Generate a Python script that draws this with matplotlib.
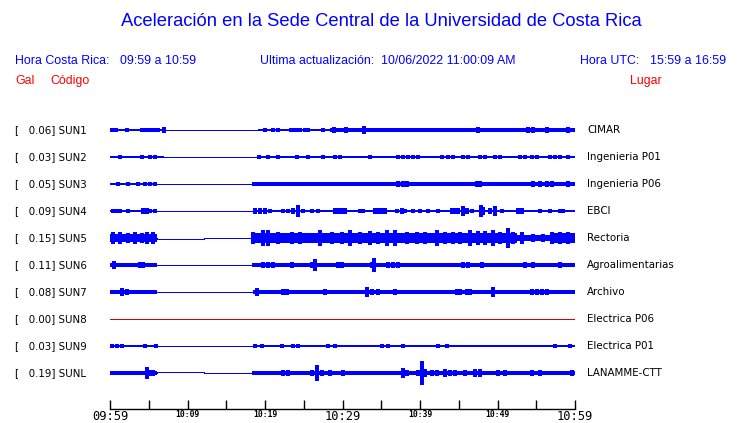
import matplotlib
matplotlib.use("Agg")
import matplotlib.pyplot as plt

# ---------------- data ----------------
codes = ["SUN1", "SUN2", "SUN3", "SUN4", "SUN5", "SUN6", "SUN7", "SUN8", "SUN9", "SUNL"]
places = ["CIMAR", "Ingenieria P01", "Ingenieria P06", "EBCI", "Rectoria",
          "Agroalimentarias", "Archivo", "Electrica P06", "Electrica P01", "LANAMME-CTT"]
peak_gal = [0.06, 0.03, 0.05, 0.09, 0.15, 0.11, 0.08, 0.00, 0.03, 0.19]

# background envelope (half amplitude, Gal) as step function: start minute -> level (0 = no data)
sun1_base_t = [0, 1.0, 7.0, 19.05, 28.5]
sun1_base_a = [0.032, 0.022, 0, 0.02, 0.024]
sun2_base_t = [0, 6.75, 19.2]
sun2_base_a = [0.011, 0, 0.011]
sun3_base_t = [0, 6.0, 18.45]
sun3_base_a = [0.02, 0, 0.03]
sun4_base_t = [0, 6.0, 18.45]
sun4_base_a = [0.022, 0, 0.023]
sun5_base_t = [0, 6.0, 18.3, 52.5, 57.0]
sun5_base_a = [0.065, 0, 0.075, 0.05, 0.072]
sun6_base_t = [0, 6.0, 18.3]
sun6_base_a = [0.028, 0, 0.028]
sun7_base_t = [0, 6.0, 18.45]
sun7_base_a = [0.025, 0, 0.027]
sun8_base_t = [0]
sun8_base_a = [0]
sun9_base_t = [0, 6.0, 18.45]
sun9_base_a = [0.014, 0, 0.016]
sunl_base_t = [0, 6.0, 18.3]
sunl_base_a = [0.027, 0, 0.029]

# bursts: minute after 09:59 and half amplitude (Gal)
sun1_burst_t = [0.3, 0.8, 2.24, 4.17, 4.52, 5.03, 5.38, 5.72, 6.15, 7.0,
                20.0, 21.07, 21.64, 23.4, 23.7, 24.0, 24.5, 25.2, 25.6, 27.5,
                28.6, 28.9, 29.3, 29.7, 30.1, 30.5, 32.82, 33.55, 34.1, 35.7,
                37.0, 37.85, 38.9, 40.0, 40.6, 41.1, 41.7, 42.4, 42.8, 43.7,
                44.3, 45.8, 46.45, 47.53, 48.17, 49.25, 49.9, 51.4, 52.9, 53.9,
                54.6, 55.3, 56.34, 57.2, 58.06, 59.14]
sun1_burst_a = [0.032, 0.032, 0.035, 0.035, 0.03, 0.035, 0.03, 0.03, 0.03, 0.048,
                0.03, 0.035, 0.03, 0.035, 0.035, 0.035, 0.03, 0.035, 0.03, 0.028,
                0.035, 0.04, 0.037, 0.037, 0.035, 0.053, 0.058, 0.03, 0.03, 0.03,
                0.03, 0.033, 0.03, 0.035, 0.035, 0.03, 0.033, 0.033, 0.03, 0.035,
                0.03, 0.035, 0.03, 0.048, 0.03, 0.033, 0.03, 0.033, 0.035, 0.048,
                0.04, 0.035, 0.045, 0.035, 0.035, 0.04]

sun2_burst_t = [0.22, 0.65, 1.29, 3.14, 3.44, 4.17, 4.73, 5.16, 5.8, 6.24, 6.75,
                19.23, 20.43, 21.72, 22.8, 24.08, 24.73, 25.59, 27.53, 29.03, 29.68,
                30.75, 31.6, 33.55, 34.62, 35.9, 37.2, 37.85, 38.5, 39.14, 39.79,
                40.65, 41.72, 42.8, 43.66, 44.3, 45.59, 46.24, 46.88, 47.74, 48.39,
                49.68, 50.32, 51.6, 52.9, 53.55, 54.41, 55.05, 56.77, 57.42, 58.06,
                59.14]
sun2_burst_a = [0.022, 0.02, 0.025, 0.022, 0.022, 0.025, 0.022, 0.025, 0.025, 0.022, 0.02,
                0.028, 0.025, 0.025, 0.022, 0.025, 0.022, 0.025, 0.028, 0.025, 0.025,
                0.022, 0.022, 0.025, 0.022, 0.02, 0.028, 0.03, 0.028, 0.028, 0.025,
                0.022, 0.022, 0.028, 0.025, 0.025, 0.028, 0.028, 0.022, 0.028, 0.025,
                0.025, 0.025, 0.022, 0.025, 0.025, 0.028, 0.025, 0.028, 0.03, 0.025,
                0.025]

sun3_burst_t = [1.08, 2.37, 3.23, 3.65, 4.52, 5.16, 5.8,
                18.62, 19.57, 21.29, 21.94, 22.8, 23.66, 24.3, 25.16, 26.02, 26.88,
                28.39, 29.03, 29.68, 30.32, 30.97, 31.6, 32.9, 33.76, 35.05, 35.7,
                37.2, 37.76, 38.28, 38.93, 40.0, 41.29, 42.8, 43.66, 44.73, 45.59,
                46.24, 47.31, 47.74, 49.03, 49.89, 50.54, 51.4, 52.9, 53.98, 54.62,
                55.48, 56.34, 56.99, 57.63, 59.14]
sun3_burst_a = [0.025, 0.032, 0.022, 0.025, 0.025, 0.025, 0.028,
                0.037, 0.035, 0.035, 0.035, 0.035, 0.037, 0.037, 0.035, 0.035, 0.033,
                0.035, 0.035, 0.035, 0.035, 0.035, 0.035, 0.033, 0.035, 0.035, 0.035,
                0.045, 0.053, 0.04, 0.037, 0.035, 0.033, 0.035, 0.035, 0.035, 0.035,
                0.035, 0.042, 0.042, 0.037, 0.035, 0.035, 0.035, 0.033, 0.035, 0.048,
                0.04, 0.04, 0.04, 0.038, 0.042]

sun4_burst_t = [0.43, 0.86, 1.29, 2.37, 4.3, 4.52, 4.73, 5.16, 5.8,
                18.71, 19.35, 20.0, 20.64, 22.37, 23.01, 23.66, 24.3, 24.95, 26.02,
                26.88, 29.03, 29.46, 29.89, 30.32, 32.26, 32.69, 34.19, 34.62, 35.05,
                35.48, 37.0, 37.63, 38.06, 39.14, 40.0, 41.08, 42.37, 44.09, 44.52,
                44.95, 45.59, 46.02, 46.67, 47.87, 48.17, 49.03, 49.68, 50.54, 52.69,
                53.12, 55.48, 56.77, 58.06, 58.49]
sun4_burst_a = [0.037, 0.037, 0.035, 0.03, 0.045, 0.053, 0.045, 0.03, 0.037,
                0.045, 0.04, 0.045, 0.035, 0.037, 0.037, 0.04, 0.09, 0.03, 0.03,
                0.03, 0.045, 0.05, 0.04, 0.045, 0.03, 0.03, 0.045, 0.05, 0.045,
                0.04, 0.035, 0.04, 0.03, 0.03, 0.03, 0.03, 0.03, 0.05, 0.055,
                0.05, 0.074, 0.045, 0.03, 0.095, 0.06, 0.045, 0.085, 0.03, 0.05,
                0.05, 0.03, 0.03, 0.035, 0.035]

sun5_burst_t = [0.43, 1.29, 2.37, 3.23, 4.09, 4.73, 5.59,
                18.49, 19.78, 20.43, 21.72, 23.44, 24.52, 25.16, 27.1, 28.6, 29.89,
                30.97, 32.26, 33.55, 34.62, 35.7, 36.77, 38.28, 39.57, 40.65, 42.15,
                43.23, 44.3, 45.16, 46.45, 47.53, 48.39, 49.46, 50.32, 51.31, 52.04,
                53.12, 54.62, 55.91, 56.99, 58.06, 59.14]
sun5_burst_a = [0.09, 0.1, 0.08, 0.09, 0.08, 0.1, 0.09,
                0.1, 0.13, 0.12, 0.09, 0.1, 0.09, 0.08, 0.12, 0.09, 0.1,
                0.12, 0.1, 0.11, 0.1, 0.12, 0.12, 0.1, 0.09, 0.1, 0.12,
                0.1, 0.1, 0.1, 0.12, 0.11, 0.11, 0.12, 0.09, 0.16, 0.1,
                0.09, 0.06, 0.06, 0.09, 0.1, 0.1]

sun6_burst_t = [0.56, 3.87, 4.3, 5.38, 5.8,
                19.78, 20.43, 21.07, 22.8, 23.44, 26.02, 26.45, 27.74, 29.46, 29.98,
                31.18, 32.69, 33.76, 34.11, 35.9, 36.56, 37.2, 38.93, 44.09, 45.59,
                46.24, 46.88, 47.96, 48.6, 49.46, 50.97, 51.83, 53.55, 54.62, 55.27,
                58.06]
sun6_burst_a = [0.07, 0.042, 0.045, 0.035, 0.035,
                0.04, 0.045, 0.045, 0.035, 0.048, 0.04, 0.1, 0.035, 0.053, 0.05,
                0.035, 0.035, 0.04, 0.106, 0.045, 0.042, 0.045, 0.035, 0.035, 0.04,
                0.04, 0.035, 0.04, 0.035, 0.035, 0.035, 0.035, 0.045, 0.04, 0.035,
                0.042]

sun7_burst_t = [1.51, 2.15, 3.65, 5.59,
                18.92, 20.0, 22.37, 22.8, 23.23, 25.16, 27.74, 29.03, 29.46, 30.75,
                31.4, 33.12, 33.76, 34.62, 35.27, 36.77, 38.28, 38.71, 39.35, 41.94,
                43.01, 43.66, 44.73, 45.16, 46.02, 46.45, 48.3, 49.46, 50.32, 53.33,
                54.41, 55.05, 55.7, 56.34, 57.2, 58.49, 59.35]
sun7_burst_a = [0.064, 0.04, 0.032, 0.032,
                0.07, 0.035, 0.042, 0.042, 0.035, 0.037, 0.048, 0.035, 0.035, 0.037,
                0.037, 0.085, 0.04, 0.04, 0.035, 0.053, 0.035, 0.035, 0.03, 0.03,
                0.035, 0.035, 0.048, 0.045, 0.04, 0.04, 0.035, 0.08, 0.035, 0.03,
                0.048, 0.045, 0.048, 0.045, 0.037, 0.035, 0.03]

sun8_burst_t = []
sun8_burst_a = []

sun9_burst_t = [0.22, 0.86, 1.51, 1.94, 3.23, 4.52, 5.38, 5.89,
                18.71, 19.57, 22.15, 23.66, 24.3, 25.16, 26.02, 28.17, 29.03, 30.32,
                32.04, 33.33, 35.05, 35.91, 37.85, 39.35, 40.65, 42.37, 43.44, 44.95,
                46.67, 48.39, 50.11, 51.4, 53.12, 55.27, 57.42, 59.35]
sun9_burst_a = [0.024, 0.024, 0.024, 0.022, 0.022, 0.024, 0.022, 0.024,
                0.024, 0.024, 0.035, 0.024, 0.024, 0.022, 0.022, 0.024, 0.024, 0.022,
                0.022, 0.022, 0.024, 0.024, 0.035, 0.022, 0.022, 0.024, 0.024, 0.022,
                0.022, 0.022, 0.022, 0.022, 0.022, 0.022, 0.03, 0.024]

sunl_burst_t = [1.94, 2.37, 2.8, 4.73, 5.16, 5.59,
                22.37, 23.01, 26.02, 26.67, 27.31, 28.39, 30.11, 34.19, 35.48, 37.85,
                38.28, 39.79, 40.22, 40.65, 41.51, 42.15, 43.23, 43.87, 44.52, 45.8,
                47.1, 47.74, 50.11, 50.97, 53.12, 54.41, 55.48, 56.56, 59.57]
sunl_burst_a = [0.032, 0.035, 0.032, 0.09, 0.045, 0.042,
                0.042, 0.042, 0.053, 0.12, 0.045, 0.04, 0.04, 0.037, 0.035, 0.074,
                0.045, 0.053, 0.19, 0.06, 0.053, 0.05, 0.069, 0.048, 0.048, 0.04,
                0.069, 0.06, 0.04, 0.04, 0.035, 0.045, 0.048, 0.035, 0.042]

# offset (Gal) of the flat no-data line before / after 10:11
gap_step_min = 12.1
gap_level_before = [0, 0, 0, 0, -0.012, 0, 0, 0, 0, 0.014]
gap_level_after = [0, 0, 0, 0, 0, 0, 0, 0, 0, 0]

tick_minutes = [0, 10, 20, 30, 40, 50, 60]
tick_labels = ["09:59", "10:09", "10:19", "10:29", "10:39", "10:49", "10:59"]
tick_big = [True, False, False, True, False, False, True]
minor_minutes = [5, 15, 25, 35, 45, 55]

base_t = [sun1_base_t, sun2_base_t, sun3_base_t, sun4_base_t, sun5_base_t,
          sun6_base_t, sun7_base_t, sun8_base_t, sun9_base_t, sunl_base_t]
base_a = [sun1_base_a, sun2_base_a, sun3_base_a, sun4_base_a, sun5_base_a,
          sun6_base_a, sun7_base_a, sun8_base_a, sun9_base_a, sunl_base_a]
burst_t = [sun1_burst_t, sun2_burst_t, sun3_burst_t, sun4_burst_t, sun5_burst_t,
           sun6_burst_t, sun7_burst_t, sun8_burst_t, sun9_burst_t, sunl_burst_t]
burst_a = [sun1_burst_a, sun2_burst_a, sun3_burst_a, sun4_burst_a, sun5_burst_a,
           sun6_burst_a, sun7_burst_a, sun8_burst_a, sun9_burst_a, sunl_burst_a]

# ---------------- drawing ----------------
W, H = 740, 423
fig = plt.figure(figsize=(W / 100, H / 100), dpi=100)
fig.patch.set_facecolor("white")


def fx(px):
    return px / W


def fy(py):
    return 1 - py / H


BLUE = "#0000ff"
RED = "#ff0000"
SANS = ["Liberation Sans", "DejaVu Sans"]

fig.text(fx(381), fy(22), "Aceleración en la Sede Central de la Universidad de Costa Rica",
         ha="center", va="center", color=BLUE, fontsize=13.2, family=SANS)
hdr = dict(va="center", color=BLUE, fontsize=8.9, family=SANS)
fig.text(fx(15), fy(61), "Hora Costa Rica:", **hdr)
fig.text(fx(120), fy(61), "09:59 a 10:59", **hdr)
fig.text(fx(260), fy(61), "Ultima actualización:", **hdr)
fig.text(fx(381), fy(61), "10/06/2022 11:00:09 AM", **hdr)
fig.text(fx(580), fy(61), "Hora UTC:", **hdr)
fig.text(fx(650), fy(61), "15:59 a 16:59", **hdr)
red = dict(va="center", color=RED, fontsize=8.9, family=SANS)
fig.text(fx(15), fy(81), "Gal", **red)
fig.text(fx(50), fy(81), "Código", **red)
fig.text(fx(630), fy(81), "Lugar", **red)

PX_PER_GAL = 63.0
ROW = 27 / PX_PER_GAL
top = 15 / PX_PER_GAL
ax = fig.add_axes([fx(110), fy(390), 465 / W, 275 / H])
ax.set_xlim(0, 60)
ax.set_ylim(top - 275 / PX_PER_GAL, top)
ax.axis("off")

AA = False
LW_LINE = 0.72   # one pixel
LW_BURST = 1.5
for i, code in enumerate(codes):
    y0 = -i * ROW
    starts = base_t[i]
    ends = starts[1:] + [60]
    if peak_gal[i] == 0 and max(base_a[i]) == 0:
        ax.hlines(y0, 0, 60, color="#dd0000", lw=LW_LINE, antialiased=AA)
    else:
        for t0, t1, a in zip(starts, ends, base_a[i]):
            if a > 0:
                ax.fill_between([t0, t1], y0 - a, y0 + a, color=BLUE, lw=0, antialiased=AA)
                ax.hlines(y0, t0, t1, color=BLUE, lw=LW_LINE, antialiased=AA)
            else:
                m = min(max(gap_step_min, t0), t1)
                if m > t0:
                    ax.hlines(y0 + gap_level_before[i], t0, m, color=BLUE, lw=LW_LINE,
                              antialiased=AA)
                if t1 > m:
                    ax.hlines(y0 + gap_level_after[i], m, t1, color=BLUE, lw=LW_LINE,
                              antialiased=AA)
        if burst_t[i]:
            bt = burst_t[i]
            ba = burst_a[i]
            ax.vlines(bt, [y0 - a for a in ba], [y0 + a for a in ba], color=BLUE,
                      lw=LW_BURST, antialiased=AA)

    ax.annotate(f"[{peak_gal[i]:7.2f}] {code}", xy=(15, y0), xycoords=("figure pixels", "data"),
                va="center", ha="left", fontsize=7.4, family="DejaVu Sans", color="black")
    ax.annotate(places[i], xy=(587, y0), xycoords=("figure pixels", "data"),
                va="center", ha="left", fontsize=7.4, family="DejaVu Sans", color="black")

# time axis
ax2 = fig.add_axes([fx(110), fy(409), 465 / W, 0.0005])
ax2.set_xlim(0, 60)
ax2.set_ylim(0, 1)
for s in ["left", "right", "top"]:
    ax2.spines[s].set_visible(False)
ax2.spines["bottom"].set_linewidth(1.0)
ax2.set_yticks([])
ax2.set_xticks(tick_minutes)
ax2.set_xticks(minor_minutes, minor=True)
ax2.set_xticklabels(tick_labels)
ax2.tick_params(axis="x", which="both", direction="in", length=6.5, width=1.0, pad=0.8)
for lbl, big in zip(ax2.get_xticklabels(), tick_big):
    lbl.set_family("DejaVu Sans Mono")
    if big:
        lbl.set_fontsize(8.7)
    else:
        lbl.set_fontsize(5.8)
        lbl.set_fontweight("bold")

fig.savefig("out.png", dpi=100, facecolor="white")
